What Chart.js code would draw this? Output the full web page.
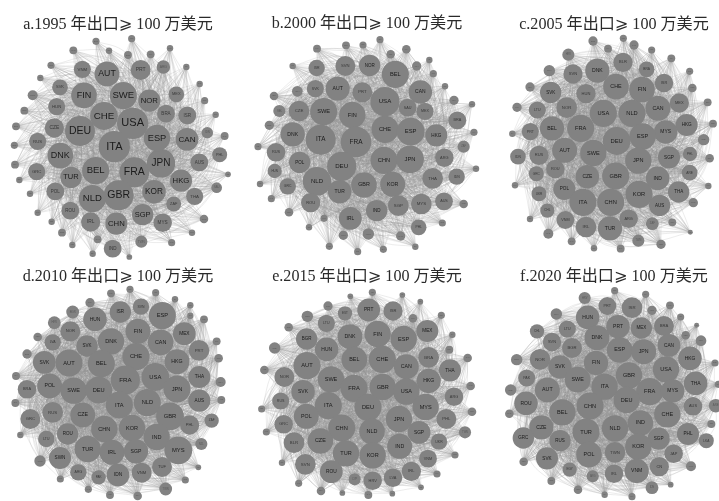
<!DOCTYPE html>
<html>
<head>
<meta charset="utf-8">
<title>出口网络</title>
<script src="https://cdn.jsdelivr.net/npm/chart.js@4"></script>
<style>
  html, body { margin: 0; padding: 0; background: #fff; }
  #page { position: relative; width: 719px; height: 501px; overflow: hidden; }
  #page canvas { position: absolute; filter: blur(0.4px); }
  .ttl { position: absolute; width: 240px; text-align: center; white-space: nowrap; font: 16.1px "Liberation Serif", "Noto Sans CJK SC", "DejaVu Sans", serif; color: #2a2a2a; line-height: 20px; }
</style>
</head>
<body>
<div id="page"></div>
<script>
var titles = ['a.1995 年出口⩾ 100 万美元', 'b.2000 年出口⩾ 100 万美元', 'c.2005 年出口⩾ 100 万美元',
              'd.2010 年出口⩾ 100 万美元', 'e.2015 年出口⩾ 100 万美元', 'f.2020 年出口⩾ 100 万美元'];

// each node: country, layout x, layout y, size (720 layout units per panel)
var nodes1995 = [['USA',398,370,44],['ITA',343,440,44],['DEU',240,393,42],['FRA',403,517,42],['BEL',287,512,38],['SWE',370,287,38],['JPN',483,490,40],['GBR',356,586,42],['NLD',277,596,38],['CHE',312,348,39],['FIN',252,286,36],['AUT',321,222,35],['ESP',471,414,37],['DNK',181,467,36],['CAN',561,418,32],['KOR',462,575,33],['HKG',543,542,31],['CHN',349,671,31],['SGP',428,644,30],['IRL',272,666,27],['MYS',488,668,26],['TUR',213,532,30],['POL',166,574,25],['ROU',211,632,25],['GRC',110,515,24],['RUS',113,424,24],['CZE',163,384,27],['HUN',170,320,24],['SVK',180,262,22],['VNM',247,208,24],['PRT',422,210,28],['ARG',490,201,19],['NOR',448,302,31],['BRA',498,341,25],['MEX',529,283,22],['ISR',562,346,25],['AUS',598,487,25],['THA',584,589,24],['ZAF',521,612,21],['IND',338,746,25],
['LTU',395,116,10],['BGR',288,124,10],['SVN',220,151,11],['HRV',327,152,9],['EST',384,165,11],['LVA',452,163,11],['CYP',510,145,9],['MLT',153,196,10],['ISL',559,201,9],['LUX',121,234,9],['UKR',98,286,14],['CHL',599,252,9],['COL',614,302,10],['PER',73,332,11],['URY',647,344,9],['ECU',48,379,11],['IDN',622,398,16],['PAK',674,408,11],['BGD',43,436,10],['PHL',659,464,21],['LKA',45,494,11],['NZL',684,523,8],['EGY',58,540,9],['SAU',650,563,15],['ARE',90,581,9],['MAR',113,638,9],['TUN',612,657,12],['JOR',155,665,9],['KWT',576,698,9],['OMN',186,698,11],['QAT',293,718,11],['TWN',424,725,17],['MAC',515,728,10],['KEN',217,735,9],['NGA',278,761,9],['GHA',388,771,8]];
var nodes2000 = [['BEL',466,223,38],['USA',435,305,41],['SVN',316,198,28],['NOR',389,196,30],['ISR',230,204,23],['AUT',293,266,34],['PRT',367,277,28],['CAN',541,276,33],['SVK',226,266,24],['HRV',172,274,15],['CZE',177,333,29],['SWE',251,335,38],['FIN',337,345,37],['SAU',503,323,25],['MEX',555,334,24],['BRA',652,361,25],['CHE',435,388,38],['ESP',512,395,39],['HKG',589,406,31],['DNK',158,403,34],['ITA',242,419,42],['FRA',348,426,43],['CHN',432,481,38],['JPN',510,478,39],['DEU',305,499,41],['ARG',613,473,26],['POL',179,487,30],['RUS',108,457,26],['HUN',104,513,20],['NLD',231,544,40],['GBR',372,555,36],['KOR',458,553,35],['THA',578,535,29],['IDN',650,530,23],['TUR',299,575,33],['GRC',143,559,23],['ROU',212,608,27],['SGP',475,617,29],['MYS',544,612,29],['AUS',612,604,25],['IND',410,632,30],['IRL',331,655,32],['PHL',536,682,22],
['LTU',420,119,10],['BGR',318,136,11],['EST',369,135,10],['LVA',499,148,12],['CYP',231,146,11],['MLT',452,163,12],['ISL',568,180,9],['LUX',530,198,13],['UKR',158,198,9],['CHL',580,221,10],['COL',615,259,9],['PER',102,288,12],['URY',642,301,13],['ECU',696,313,9],['PAK',118,333,17],['BGD',88,376,13],['LKA',702,397,10],['NZL',54,440,10],['ZAF',671,440,17],['EGY',708,506,9],['ARE',60,552,9],['MAR',94,596,10],['TUN',671,612,12],['JOR',147,637,12],['KWT',252,655,10],['OMN',607,669,10],['QAT',207,682,9],['TWN',310,706,13],['VNM',385,702,16],['MAC',482,708,13],['KEN',268,739,10],['NGA',526,740,9],['GHA',430,748,10],['BLR',353,755,10]];
var nodes2005 = [['BLR',432,187,27],['DNK',355,212,34],['CHE',411,260,36],['FIN',489,269,36],['SVN',282,222,27],['BRA',503,208,22],['ISR',555,249,26],['CAN',537,325,35],['MEX',601,309,27],['SVK',215,277,30],['HUN',321,281,27],['NOR',263,323,29],['USA',373,340,38],['NLD',459,340,38],['LTU',175,330,24],['HKG',623,375,31],['MYS',560,396,33],['ESP',491,409,37],['DEU',413,423,39],['FRA',305,385,38],['BEL',219,385,34],['AUT',257,451,35],['SWE',343,459,37],['PRT',154,395,24],['SGP',570,472,31],['PHL',633,462,20],['ARE',632,518,22],['JPN',478,482,37],['RUS',180,466,27],['ROU',229,507,26],['GRC',172,521,21],['IDN',117,470,22],['CZE',325,530,33],['GBR',410,528,38],['IND',536,535,33],['POL',256,567,31],['THA',599,576,30],['KOR',480,583,38],['AUS',542,616,30],['ITA',312,607,38],['CHN',395,607,38],['UKR',180,581,21],['CHL',205,632,20],['VNM',259,660,25],['ARG',449,656,26],['IRL',321,681,29],['TUR',393,685,34],['ZAF',520,671,18],
['BGR',342,123,13],['EST',433,115,10],['LVA',387,146,11],['CYP',465,135,13],['MLT',518,150,10],['HRV',268,164,17],['ISL',577,175,11],['LUX',211,212,16],['COL',632,214,10],['PER',640,264,12],['URY',153,261,13],['ECU',686,307,11],['PAK',114,322,13],['BGD',702,371,11],['LKA',100,401,9],['NZL',674,419,16],['EGY',692,475,12],['SAU',108,556,9],['MAR',688,558,9],['TUN',643,608,13],['JOR',153,657,9],['KWT',580,667,11],['OMN',634,697,7],['QAT',208,701,14],['TWN',478,722,17],['MAC',278,724,11],['KEN',546,733,13],['NGA',345,745,9],['GHA',425,746,11]];
var nodes2010 = [['ESP',487,182,38],['ISR',361,171,30],['HUN',285,193,33],['SVN',423,155,23],['BGR',218,171,18],['HRV',163,203,18],['FIN',414,229,35],['MEX',553,236,32],['NOR',211,229,28],['CAN',482,262,36],['DNK',333,259,37],['SVK',261,273,30],['LVA',158,262,23],['PRT',597,286,29],['CHE',408,305,38],['SVK',133,322,32],['AUT',207,324,38],['BEL',304,326,38],['HKG',531,320,35],['USA',466,366,39],['THA',598,366,31],['FRA',376,375,41],['POL',149,393,35],['SWE',221,407,37],['DEU',296,405,38],['JPN',531,402,38],['BRA',81,403,26],['AUS',598,437,31],['NLD',442,443,38],['ITA',358,450,38],['RUS',158,472,29],['GRC',91,492,28],['CZE',248,480,35],['GBR',510,484,39],['KOR',396,519,37],['CHN',313,522,37],['PHL',569,510,27],['IND',470,546,37],['ROU',203,537,30],['LTU',139,552,23],['NZL',604,567,17],['MYS',535,586,39],['TUR',263,582,37],['IRL',336,592,35],['SGP',408,589,34],['SWN',180,609,31],['TUF',486,636,28],['VNM',425,653,28],['IDN',354,660,32],['ARG',235,652,23],['PAK',296,667,20],['ZAF',635,497,20],
['EST',390,103,10],['CYP',333,115,11],['MLT',467,113,10],['ISL',525,133,9],['LUX',270,143,13],['UKR',571,151,9],['CHL',571,182,9],['COL',612,193,11],['PER',113,246,12],['URY',650,259,11],['ECU',656,310,12],['BGD',81,297,13],['LKA',48,363,11],['EGY',662,381,14],['SAU',46,444,11],['ARE',664,435,11],['MAR',61,540,9],['TUN',120,618,16],['JOR',595,637,8],['KWT',181,672,10],['OMN',556,675,10],['TWN',497,702,18],['MAC',265,703,10],['KEN',330,720,11],['NGA',413,723,12]];
var nodes2015 = [['PRT',386,165,32],['ISR',459,168,27],['MEX',562,228,31],['ESP',491,252,37],['FIN',413,237,37],['DNK',330,245,35],['EST',315,175,20],['LTU',259,205,24],['BGR',200,252,30],['HUN',260,283,33],['BRA',566,307,29],['CHE',427,313,38],['BEL',343,314,36],['CAN',499,335,35],['AUT',201,332,38],['THA',630,346,31],['SWE',273,373,37],['HKG',566,378,34],['NOR',133,366,28],['FRA',342,400,38],['GBR',428,396,37],['USA',499,410,37],['SVK',189,410,33],['ARG',642,425,26],['RUS',122,438,24],['ITA',265,452,38],['MYS',557,456,37],['DEU',384,457,38],['POL',199,484,35],['JPN',477,492,37],['PHL',619,492,28],['GRC',131,508,26],['CHN',305,519,38],['NLD',396,529,36],['SGP',537,532,32],['CZE',241,558,36],['BLR',162,563,29],['UKR',597,560,23],['IND',479,574,35],['TUR',318,595,37],['KOR',398,601,37],['TWN',675,532,17],['VNM',564,611,25],['SVN',196,628,29],['ROU',274,650,32],['IRL',514,649,27],['LVA',459,668,26],['HRV',398,677,26],['CYP',344,673,17],
['MLT',397,112,10],['ISL',487,120,8],['LUX',331,124,8],['CHL',541,140,8],['COL',264,153,13],['PER',202,184,16],['URY',519,190,12],['ECU',604,181,10],['BGD',146,217,12],['LKA',637,239,9],['NZL',104,279,16],['EGY',628,284,11],['SAU',683,309,12],['ARE',73,345,12],['MAR',692,393,12],['TUN',65,462,10],['JOR',696,470,12],['KWT',79,531,10],['OMN',645,600,10],['IDN',126,623,9],['PAK',591,657,10],['MAC',176,685,10],['KEN',543,697,8],['NGA',243,708,12],['GHA',307,714,8],['QAT',457,716,8],['ZAF',385,720,11]];
var nodes2020 = [['ISR',459,158,29],['PRT',385,153,25],['HUN',326,187,33],['PRT',417,215,33],['MEX',487,219,30],['BRA',555,213,28],['DNK',354,248,35],['LTU',265,222,24],['SVN',219,261,26],['CAN',570,271,32],['ESP',422,285,36],['JPN',494,290,35],['BGR',279,279,28],['HKG',633,310,33],['NOR',183,313,29],['FIN',351,324,34],['SVK',243,336,33],['USA',561,343,37],['GBR',450,361,37],['SWE',296,374,36],['THA',650,385,33],['ITA',377,395,37],['AUT',205,405,35],['FRA',512,410,38],['MYS',581,408,33],['DEU',443,435,37],['PAK',143,369,24],['ROU',141,445,33],['CHN',333,453,38],['BEL',250,472,37],['AUS',642,454,26],['CHE',565,478,37],['IND',484,504,36],['CZE',187,517,34],['NLD',408,520,37],['TUR',321,531,38],['GRC',133,549,30],['RUS',243,557,30],['SGP',539,551,31],['PHL',627,537,31],['KOR',478,575,37],['LKA',682,557,21],['JAP',584,596,26],['TWN',408,592,29],['POL',330,599,36],['SVK',204,610,31],['CN',541,635,27],['VNM',473,648,34],['EGY',272,644,20],['IRL',405,656,26],['ARG',341,664,17],
['EST',407,107,10],['LVA',500,118,10],['HRV',317,129,17],['CYP',573,151,11],['MLT',519,166,13],['ISL',605,186,10],['LUX',232,177,16],['CHL',174,229,20],['COL',653,211,7],['PER',620,241,12],['URY',666,257,15],['ECU',113,314,16],['BGD',708,324,10],['NZL',95,405,16],['SAU',718,388,10],['ARE',710,452,19],['MAR',91,476,12],['TUN',697,507,11],['JOR',134,620,12],['KWT',636,634,14],['OMN',217,678,11],['IDN',519,698,18],['MAC',575,689,8],['KEN',297,704,12],['NGA',377,719,9],['GHA',459,725,10]];

var panelNodes = [nodes1995, nodes2000, nodes2005, nodes2010, nodes2015, nodes2020];

var panels = [
  { left: 0,   top: 0,   h: 262, titleLeft: -2,  titleTop: 14 },
  { left: 240, top: 0,   h: 262, titleLeft: 247, titleTop: 13 },
  { left: 479, top: 0,   h: 262, titleLeft: 494, titleTop: 14 },
  { left: 0,   top: 255, h: 246, titleLeft: -2,  titleTop: 266 },
  { left: 240, top: 255, h: 246, titleLeft: 247, titleTop: 266 },
  { left: 479, top: 255, h: 246, titleLeft: 494, titleTop: 266 }
];

// the single links can't be read, so every pair is linked unless both nodes are small
function linkPoints(list) {
  var pts = [];
  for (var i = 0; i < list.length; i++) {
    for (var j = i + 1; j < list.length; j++) {
      var a = list[i], b = list[j];
      if (a[3] + b[3] < 38) continue;
      var dx = b[1] - a[1], dy = b[2] - a[2];
      pts.push({x: a[1], y: a[2]});
      pts.push({x: (a[1] + b[1]) / 2 - dy * 0.13, y: (a[2] + b[2]) / 2 + dx * 0.13});
      pts.push({x: b[1], y: b[2]});
      pts.push({x: null, y: null});
    }
  }
  return pts;
}

var nodeLabels = {
  id: 'nodeLabels',
  afterDatasetsDraw: function(chart, args, opts) {
    var meta = chart.getDatasetMeta(0);
    var ctx = chart.ctx;
    ctx.save();
    ctx.textAlign = 'center';
    ctx.textBaseline = 'middle';
    meta.data.forEach(function(el, i) {
      var n = opts.list[i];
      var size = n[3];
      var fs = opts.big && size >= 30 ? size * 0.25 : size * (opts.big ? 0.18 : 0.15);
      ctx.fillStyle = size < 20 ? 'rgba(40,40,40,0.45)' : (size < 30 ? 'rgba(30,30,30,0.75)' : '#1c1c1c');
      ctx.font = fs + 'px "Liberation Sans", sans-serif';
      ctx.fillText(n[0], el.x, el.y);
    });
    ctx.restore();
  }
};

var page = document.getElementById('page');

panels.forEach(function(p, k) {
  var list = panelNodes[k];
  var cv = document.createElement('canvas');
  cv.width = 240;
  cv.height = p.h;
  cv.style.left = p.left + 'px';
  cv.style.top = p.top + 'px';
  cv.style.width = '240px';
  cv.style.height = p.h + 'px';
  page.appendChild(cv);

  var t = document.createElement('div');
  t.className = 'ttl';
  t.style.left = p.titleLeft + 'px';
  t.style.top = p.titleTop + 'px';
  t.textContent = titles[k];
  page.appendChild(t);

  new Chart(cv, {
    type: 'bubble',
    data: {
      datasets: [{
        data: list.map(function(n) { return {x: n[1], y: n[2], r: n[3] * 1.07 / 3}; }),
        backgroundColor: '#828282',
        borderWidth: 0,
        clip: false
      }, {
        type: 'scatter',
        data: linkPoints(list),
        showLine: true,
        spanGaps: false,
        tension: 0.4,
        pointRadius: 0,
        borderColor: 'rgba(150,150,150,0.6)',
        borderWidth: 0.3,
        clip: false
      }]
    },
    options: {
      responsive: false,
      animation: false,
      layout: { autoPadding: false, padding: 0 },
      scales: {
        x: { type: 'linear', min: 0, max: 720, display: false },
        y: { type: 'linear', min: 0, max: p.h * 3, reverse: true, display: false }
      },
      plugins: {
        legend: { display: false },
        tooltip: { enabled: false },
        nodeLabels: { list: list, big: k === 0 }
      }
    },
    plugins: [nodeLabels]
  });
});
</script>
</body>
</html>
